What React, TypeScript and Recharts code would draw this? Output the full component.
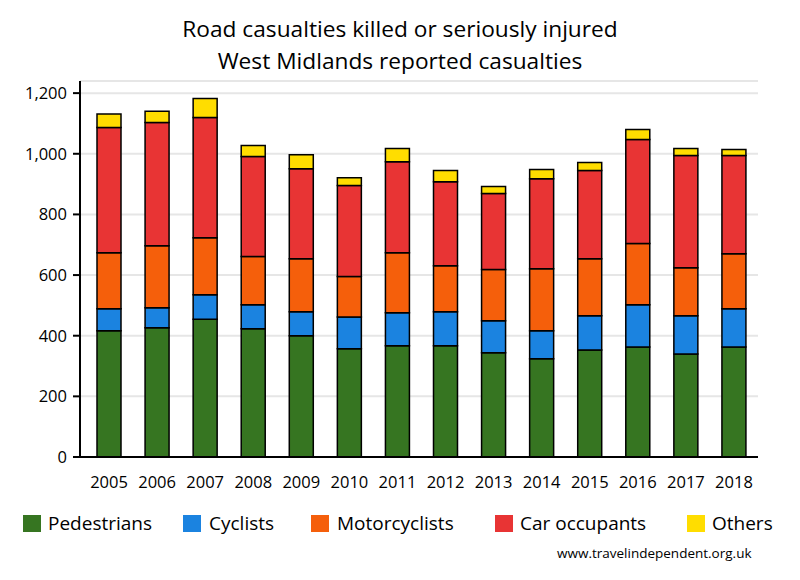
import React from 'react';
import { BarChart, Bar, XAxis, YAxis, CartesianGrid } from 'recharts';

const years = ['2005','2006','2007','2008','2009','2010','2011','2012','2013','2014','2015','2016','2017','2018'];
const pedestrians = [416, 426, 454, 423, 400, 357, 367, 367, 344, 324, 353, 363, 340, 363];
const cyclists = [73, 66, 81, 79, 79, 105, 109, 112, 105, 92, 113, 139, 126, 126];
const motorcyclists = [185, 205, 188, 159, 175, 133, 198, 152, 169, 205, 188, 202, 158, 181];
const carOccupants = [413, 406, 397, 330, 297, 300, 300, 277, 251, 297, 291, 343, 370, 324];
const others = [44, 37, 62, 36, 46, 26, 43, 37, 23, 30, 26, 33, 23, 20];
const yTicks = [0, 200, 400, 600, 800, 1000, 1200];

const series = [
  { key: 'Pedestrians', values: pedestrians, color: '#367521' },
  { key: 'Cyclists', values: cyclists, color: '#1b83e0' },
  { key: 'Motorcyclists', values: motorcyclists, color: '#f55f0b' },
  { key: 'Car occupants', values: carOccupants, color: '#e83434' },
  { key: 'Others', values: others, color: '#ffdd00' },
];

const data = years.map((y, i) => {
  const row: Record<string, any> = { year: y };
  series.forEach((s) => { row[s.key] = s.values[i]; });
  return row;
});

const FONT = '"Segoe UI", "Open Sans", "Noto Sans", sans-serif';

const legendPos = [
  { sq: 23, tx: 48 },
  { sq: 183, tx: 209 },
  { sq: 311, tx: 337 },
  { sq: 495, tx: 520 },
  { sq: 687, tx: 712 },
];

export default function App() {
  return (
    <div style={{ position: 'absolute', left: 0, top: 0, width: 800, height: 580, background: '#fff', fontFamily: FONT }}>
      <div style={{ position: 'absolute', left: 0, top: 13, width: 800, textAlign: 'center', fontSize: 22.7, lineHeight: '32px', color: '#000' }}>
        <div>Road casualties killed or seriously injured</div>
        <div>West Midlands reported casualties</div>
      </div>
      <BarChart
        width={800}
        height={580}
        data={data}
        margin={{ top: 81, right: 42, left: 0, bottom: 93 }}
        barSize={24}
      >
        <CartesianGrid horizontal={true} vertical={false} stroke="#e6e6e6" strokeWidth={2} />
        <XAxis
          dataKey="year"
          axisLine={{ stroke: '#000', strokeWidth: 2 }}
          tickLine={false}
          tick={{ fill: '#000', fontSize: 16.5, fontFamily: FONT }}
          tickMargin={13}
          padding={{ left: 5, right: 0 }}
          height={30}
        />
        <YAxis
          width={80}
          domain={[0, 1240]}
          ticks={yTicks}
          allowDataOverflow={true}
          axisLine={{ stroke: '#000', strokeWidth: 2 }}
          tickLine={{ stroke: '#000', strokeWidth: 2 }}
          tickSize={7}
          tickMargin={6}
          tick={{ fill: '#000', fontSize: 16.5, fontFamily: FONT }}
          tickFormatter={(v: number) => v.toLocaleString('en-US')}
        />
        {series.map((s) => (
          <Bar key={s.key} dataKey={s.key} stackId="a" fill={s.color} stroke="#000" strokeWidth={1.5} isAnimationActive={false} />
        ))}
      </BarChart>
      {series.map((s, i) => (
        <React.Fragment key={s.key}>
          <div style={{ position: 'absolute', left: legendPos[i].sq, top: 515, width: 18, height: 17, background: s.color }} />
          <div style={{ position: 'absolute', left: legendPos[i].tx, top: 511, fontSize: 19, lineHeight: '24px', color: '#000', whiteSpace: 'nowrap' }}>{s.key}</div>
        </React.Fragment>
      ))}
      <div style={{ position: 'absolute', left: 557, top: 544, fontSize: 13.5, lineHeight: '18px', color: '#000', whiteSpace: 'nowrap' }}>www.travelindependent.org.uk</div>
    </div>
  );
}
